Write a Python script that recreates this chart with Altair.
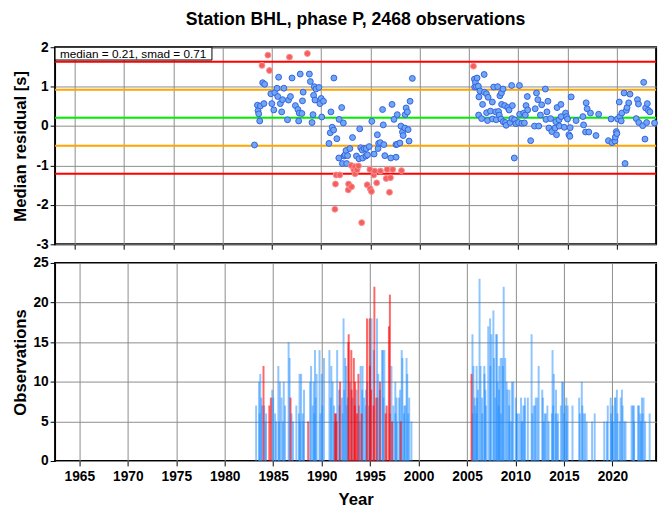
import altair as alt
import pandas as pd

TITLE = "Station BHL, phase P, 2468 observations"
STATS_TEXT = "median = 0.21, smad = 0.71"
MEDIAN = 0.21
SMAD = 0.71
OUTLIER_DEV = 1.18

# ---- era 1 (1983-1999) ----
years_a = [1983.24, 1983.54, 1983.60, 1983.67, 1983.77, 1983.84, 1984.00, 1984.07, 1984.20, 1984.27,
           1984.60, 1984.76, 1984.90, 1985.00, 1985.20, 1985.30, 1985.53, 1985.60, 1985.69, 1985.86,
           1986.00, 1986.09, 1986.22, 1986.59, 1986.69, 1986.79, 1986.89, 1987.05, 1987.39, 1987.65,
           1987.72, 1987.78, 1987.88, 1988.05, 1988.11, 1988.18, 1988.61, 1988.81, 1988.91, 1989.08,
           1989.18, 1989.24, 1989.31, 1989.38, 1989.48, 1989.78, 1989.88, 1990.01, 1990.07, 1990.24,
           1990.80, 1990.93, 1991.00, 1991.13, 1991.27, 1991.30, 1991.40, 1991.46, 1991.53, 1991.60,
           1991.80, 1991.83, 1991.90, 1992.09, 1992.16, 1992.26, 1992.33, 1992.43, 1992.53, 1992.59,
           1992.69, 1992.76, 1992.79, 1992.92, 1993.06, 1993.09, 1993.19, 1993.32, 1993.42, 1993.45,
           1993.59, 1993.65, 1993.79, 1993.85, 1993.92, 1994.02, 1994.12, 1994.18, 1994.22, 1994.38,
           1994.55, 1994.58, 1994.68, 1994.71, 1994.88, 1994.95, 1994.98, 1995.11, 1995.15, 1995.35,
           1995.38, 1995.44, 1995.64, 1995.71, 1995.78, 1995.84, 1996.01, 1996.02, 1996.24, 1996.31,
           1996.37, 1996.47, 1996.60, 1996.70, 1996.94, 1997.04, 1997.07, 1997.20, 1997.27, 1997.40,
           1997.60, 1997.61, 1997.73, 1997.74, 1998.00, 1998.10, 1998.16, 1998.26, 1998.33, 1998.50,
           1998.53, 1998.63, 1998.76, 1998.83, 1998.93, 1999.03, 1999.26]
resid_a = [-0.48, 0.53, 0.39, 0.31, 0.13, 0.51, 1.54, 1.10, 0.57, 1.06,
           1.80, 1.41, 0.82, 0.57, 0.41, 0.85, 0.96, 0.75, 1.24, 0.57,
           0.36, 0.67, 0.96, 0.16, 0.66, 1.75, 0.75, 1.22, 0.52, 0.42,
           0.13, 0.33, 1.32, 0.32, 0.64, 0.86, 1.84, 1.32, 1.13, 0.09,
           0.29, 0.78, 1.00, 0.66, 0.94, 0.98, 0.57, 0.70, 0.23, 0.63,
           -0.44, -0.17, 0.36, -0.03, -0.10, 1.22, -2.11, -1.47, -1.24, -0.32,
           -0.81, 0.17, -1.24, 0.47, -0.95, 0.08, -0.76, -0.73, -0.62, -0.95,
           -0.75, -1.62, -1.47, -0.57, -1.00, -1.54, -0.29, -1.11, -1.03, -1.21,
           -0.76, -1.11, -1.01, -0.83, -0.07, -0.55, -2.45, -0.61, -0.81, -0.57,
           -0.76, -0.57, -1.49, -0.73, -0.52, -1.10, -1.59, -1.66, 0.12, -1.24,
           -0.71, -1.14, -1.44, -0.22, -0.57, -0.44, -0.42, -1.14, 0.42, 0.03,
           -0.47, -0.75, -1.33, -1.10, -1.68, -1.31, -0.81, 0.55, -1.10, 0.17,
           -0.47, -0.79, 0.29, -0.46, -0.43, 0.00, -1.13, -0.15, -0.24, -0.05,
           0.29, 0.46, 0.36, -0.09, -0.38, 0.63, 1.21]
counts_a = [7, 10, 6, 11, 8, 7, 12, 7, 5, 6,
            7, 8, 9, 8, 6, 5, 12, 5, 10, 8,
            5, 10, 7, 15, 13, 8, 6, 5, 7, 6,
            11, 5, 11, 6, 5, 9, 5, 10, 12, 7,
            10, 6, 14, 8, 11, 14, 6, 11, 7, 13,
            14, 8, 12, 10, 7, 5, 6, 6, 5, 14,
            9, 7, 10, 8, 6, 18, 9, 13, 12, 7,
            8, 15, 16, 10, 14, 9, 8, 13, 7, 10,
            9, 6, 11, 7, 5, 12, 6, 9, 12, 8,
            7, 9, 18, 10, 7, 18, 12, 9, 18, 7,
            14, 22, 8, 18, 8, 11, 9, 10, 14, 14,
            8, 14, 6, 7, 17, 21, 6, 12, 5, 7,
            10, 6, 8, 5, 8, 9, 5, 14, 13, 6,
            7, 7, 13, 11, 6, 8, 5]

# ---- era 2 (2005-2024) ----
years_b = [2005.46, 2005.56, 2005.59, 2005.66, 2005.76, 2005.83, 2005.96, 2005.99, 2006.02, 2006.12,
           2006.29, 2006.39, 2006.55, 2006.57, 2006.78, 2006.80, 2006.89, 2006.95, 2007.19, 2007.38,
           2007.40, 2007.52, 2007.72, 2007.78, 2007.92, 2008.01, 2008.08, 2008.15, 2008.25, 2008.30,
           2008.32, 2008.47, 2008.49, 2008.64, 2008.71, 2008.78, 2008.94, 2009.08, 2009.18, 2009.34,
           2009.38, 2009.41, 2009.61, 2009.64, 2009.77, 2010.04, 2010.13, 2010.15, 2010.37, 2010.57,
           2010.63, 2010.73, 2010.80, 2010.93, 2010.97, 2011.27, 2011.66, 2011.73, 2011.86, 2012.00,
           2012.09, 2012.26, 2012.39, 2012.76, 2012.82, 2012.92, 2013.02, 2013.12, 2013.29, 2013.42,
           2013.75, 2013.82, 2013.89, 2013.95, 2014.15, 2014.18, 2014.34, 2014.36, 2014.68, 2014.81,
           2014.91, 2015.01, 2015.15, 2015.25, 2015.28, 2015.38, 2015.88, 2016.57, 2016.64, 2016.84,
           2016.90, 2017.00, 2017.17, 2017.34, 2017.90, 2018.17, 2019.16, 2019.43, 2019.52, 2019.82,
           2019.86, 2019.96, 2020.02, 2020.09, 2020.26, 2020.32, 2020.46, 2020.52, 2020.75, 2020.85,
           2020.98, 2021.05, 2021.22, 2021.35, 2021.98, 2022.11, 2022.21, 2022.24, 2022.64, 2022.74,
           2022.87, 2022.94, 2023.04, 2023.11, 2023.21, 2023.37, 2023.84]
resid_b = [1.52, 1.19, 0.99, 1.11, 1.00, 1.22, 1.01, 0.28, 0.74, 0.89,
           0.19, 0.55, 1.31, 0.86, 0.82, 0.34, 0.14, 0.73, 0.38, 0.61,
           0.18, 0.99, 0.36, 0.16, 1.00, 0.37, 0.28, 0.77, 0.18, 0.84,
           0.55, 0.94, 0.11, 0.52, 0.09, 0.02, 0.47, 0.41, 0.09, 1.03,
           0.19, 0.52, -0.81, 0.16, 0.06, 0.09, 1.03, 0.30, 0.07, 0.33,
           0.08, 0.28, 0.52, 0.75, 0.41, -0.37, 0.00, 0.44, 0.84, 0.67,
           0.00, 0.28, 0.54, 0.94, 0.17, 0.36, 0.63, -0.05, 0.19, -0.14,
           -0.05, 0.11, -0.22, 0.47, 0.16, 0.00, 0.55, 0.24, -0.03, 0.33,
           0.24, 0.18, -0.22, -0.26, -0.04, 0.74, 0.14, 0.24, 0.03, -0.15,
           0.59, 0.44, -0.15, 0.33, -0.24, 0.30, -0.37, 0.18, -0.42, -0.38,
           -0.28, -0.14, -0.19, 0.18, 0.61, 0.24, 0.13, 0.33, 0.84, -0.95,
           0.40, 0.47, 0.59, 0.81, 0.19, 0.67, 0.56, 0.09, 0.01, 1.11,
           -0.33, 0.46, 0.09, 0.57, 0.40, 0.36, 0.08]
counts_b = [11, 16, 6, 12, 8, 7, 6, 12, 8, 9,
            23, 12, 8, 6, 12, 11, 9, 7, 17, 18,
            12, 16, 19, 13, 8, 16, 16, 10, 7, 9,
            12, 13, 6, 13, 12, 22, 13, 10, 9, 7,
            9, 5, 5, 10, 10, 8, 6, 6, 6, 8,
            5, 5, 7, 7, 8, 8, 16, 6, 7, 7,
            8, 8, 12, 9, 8, 5, 6, 6, 7, 5,
            6, 14, 7, 11, 6, 9, 5, 6, 7, 10,
            10, 6, 7, 8, 5, 7, 7, 8, 6, 10,
            7, 6, 6, 5, 5, 6, 5, 5, 7, 8,
            6, 5, 7, 5, 8, 8, 9, 6, 5, 8,
            9, 7, 5, 5, 7, 7, 7, 5, 7, 7,
            6, 5, 8, 6, 8, 5, 6]

years = years_a + years_b
resid = resid_a + resid_b
counts = counts_a + counts_b

x_ticks = [1965, 1970, 1975, 1980, 1985, 1990, 1995, 2000, 2005, 2010, 2015, 2020]
y1_ticks = [-3, -2, -1, 0, 1, 2]
y2_ticks = [0, 5, 10, 15, 20, 25]

df = pd.DataFrame({"year": years, "resid": resid, "count": counts})
df["kind"] = ["outlier" if abs(r - MEDIAN) > OUTLIER_DEV else "normal" for r in df["resid"]]

lines = pd.DataFrame({
    "resid": [MEDIAN + 2 * SMAD, MEDIAN + SMAD, MEDIAN, MEDIAN - SMAD, MEDIAN - 2 * SMAD],
    "level": ["2smad", "smad", "median", "smad", "2smad"],
})

FONT = "Liberation Sans"
W, H1, H2 = 613, 201, 202

xscale = alt.Scale(domain=[1963, 2024], nice=False, zero=False)

x_top = alt.X("year:Q", scale=xscale,
              axis=alt.Axis(values=x_ticks, labels=False, title=None, grid=True, ticks=True))
y_top = alt.Y("resid:Q", scale=alt.Scale(domain=[-3, 2], nice=False, zero=False),
              axis=alt.Axis(values=y1_ticks, title="Median residual [s]", labelExpr="datum.value + ''",
                            titleX=-26))

ref_lines = alt.Chart(lines).mark_rule().encode(
    y=y_top,
    stroke=alt.Stroke("level:N", scale=alt.Scale(domain=["2smad", "smad", "median"],
                                                  range=["#FF0000", "#FFA500", "#00EE00"]), legend=None),
    strokeWidth=alt.StrokeWidth("level:N", scale=alt.Scale(domain=["2smad", "smad", "median"],
                                                           range=[2, 2, 4]), legend=None),
)

pts_blue = alt.Chart(df).transform_filter(alt.datum.kind == "normal").mark_point(
    shape="circle", filled=True, size=36, fill="#70A7F3", stroke="#3461E0", strokeWidth=1, opacity=1
).encode(x=x_top, y=y_top)

pts_red = alt.Chart(df).transform_filter(alt.datum.kind == "outlier").mark_point(
    shape="circle", filled=True, size=36, fill="#F25F5F", stroke="#FF8F8F", strokeWidth=1, opacity=1
).encode(x=x_top, y=y_top)

stats = pd.DataFrame({"label": [STATS_TEXT]})
box = alt.Chart(stats).mark_rect(fill="white", stroke="black", strokeWidth=1).encode(
    x=alt.value(0), x2=alt.value(160), y=alt.value(0), y2=alt.value(13)
)
box_text = alt.Chart(stats).mark_text(align="left", baseline="middle", font=FONT, fontSize=12,
                                       color="black").encode(
    x=alt.value(5), y=alt.value(7), text="label:N"
)

top = alt.layer(ref_lines, pts_blue, pts_red, box, box_text).properties(
    width=W, height=H1,
    title=alt.TitleParams(TITLE, font=FONT, fontSize=18, fontWeight="bold", anchor="middle",
                          frame="group", offset=12, color="black"),
)

x_bot = alt.X("year:Q", scale=xscale,
              axis=alt.Axis(values=x_ticks, title="Year", grid=True, labelExpr="datum.value + ''",
                            labelPadding=4, titlePadding=8))
y_bot = alt.Y("count:Q", scale=alt.Scale(domain=[0, 25], nice=False, zero=True),
              axis=alt.Axis(values=y2_ticks, title="Observations", titleX=-26))

bars_blue = alt.Chart(df).transform_filter(alt.datum.kind == "normal").mark_bar(
    orient="vertical", size=2, color="#1E8CFF", opacity=0.5
).encode(x=x_bot, y=y_bot)
bars_red = alt.Chart(df).transform_filter(alt.datum.kind == "outlier").mark_bar(
    orient="vertical", size=2, color="#FF0000", opacity=0.6
).encode(x=x_bot, y=y_bot)

bottom = alt.layer(bars_blue, bars_red).properties(width=W, height=H2)

chart = alt.vconcat(top, bottom, spacing=3).properties(
    padding={"left": 3, "top": -3, "right": 0, "bottom": 0}
).configure(background="white").configure_view(stroke="black", strokeWidth=2).configure_axis(
    labelFont=FONT, labelFontSize=14, labelFontWeight="bold", labelColor="black", labelPadding=2,
    titleFont=FONT, titleFontSize=17, titleFontWeight="bold", titleColor="black",
    tickColor="black", tickSize=5, tickWidth=1, domain=False,
    gridColor="#8c8c8c", gridOpacity=1, gridWidth=1,
)

chart.save("out.html", embed_options={"renderer": "svg", "actions": False})
